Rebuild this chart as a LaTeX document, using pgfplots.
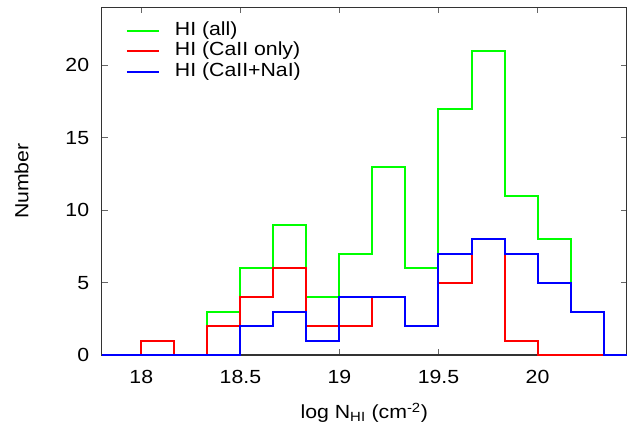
\documentclass[border=0pt]{standalone}
\usepackage{fontspec}
\setmainfont{Liberation Sans}[FakeStretch=1.12]
\usepackage{pgfplots}
\pgfplotsset{compat=1.18}
\definecolor{gall}{rgb}{0,1,0}
\definecolor{gca}{rgb}{1,0,0}
\definecolor{gcana}{rgb}{0,0,1}

\begin{document}
\begin{tikzpicture}
\begin{axis}[at={(0,0)},anchor=south west,scale only axis,width=525pt,height=347.7pt,
  xmin=17.8,xmax=20.45,ymin=0,ymax=24,
  xtick={18,18.5,19,19.5,20},ytick={0,5,10,15,20},
  tick align=inside,major tick length=6pt,
  tick style={black!60,line width=1pt},
  axis line style={black!80,line width=1.5pt},
  font=\fontsize{19}{23}\selectfont,
  /pgf/number format/assume math mode=true,
  xticklabel style={yshift=-12pt},
  yticklabel style={xshift=-9pt},
  xlabel={log N\textsubscript{HI} (cm\textsuperscript{-2})},
  ylabel={Number},
  xlabel style={yshift=-12pt},
  ylabel style={yshift=30pt},
  clip=false,
  legend cell align=left,
  legend image code/.code={\draw[#1] (0pt,0pt) -- (32pt,0pt);},
  legend style={at={(axis description cs:0,1)},anchor=north west,xshift=24pt,yshift=-13pt,
    draw=none,fill=none,inner sep=0pt,column sep=13pt,row sep=0pt,
    nodes={inner sep=2pt,text height=12.5pt,text depth=4pt}}]
\addplot[const plot,draw=gall,line width=2pt] coordinates {(17.8,0)(18.0,1)(18.1667,0)(18.3333,3)(18.5,6)(18.6667,9)(18.8333,4)(19.0,7)(19.1667,13)(19.3333,6)(19.5,17)(19.6667,21)(19.8333,11)(20.0,8)(20.1667,3)(20.3333,0)(20.45,0)};
\addlegendentry{HI (all)}
\addplot[const plot,draw=gca,line width=2pt] coordinates {(17.8,0)(18.0,1)(18.1667,0)(18.3333,2)(18.5,4)(18.6667,6)(18.8333,2)(19.0,2)(19.1667,4)(19.3333,2)(19.5,5)(19.6667,8)(19.8333,1)(20.0,0)(20.45,0)};
\addlegendentry{HI (CaII only)}
\addplot[const plot,draw=gcana,line width=2pt] coordinates {(17.8,0)(18.5,2)(18.6667,3)(18.8333,1)(19.0,4)(19.1667,4)(19.3333,2)(19.5,7)(19.6667,8)(19.8333,7)(20.0,5)(20.1667,3)(20.3333,0)(20.45,0)};
\addlegendentry{HI (CaII+NaI)}
\end{axis}
\pgfresetboundingbox
\useasboundingbox (-101.7pt,-74pt) rectangle (540.3pt,355pt);
\end{tikzpicture}
\end{document}
